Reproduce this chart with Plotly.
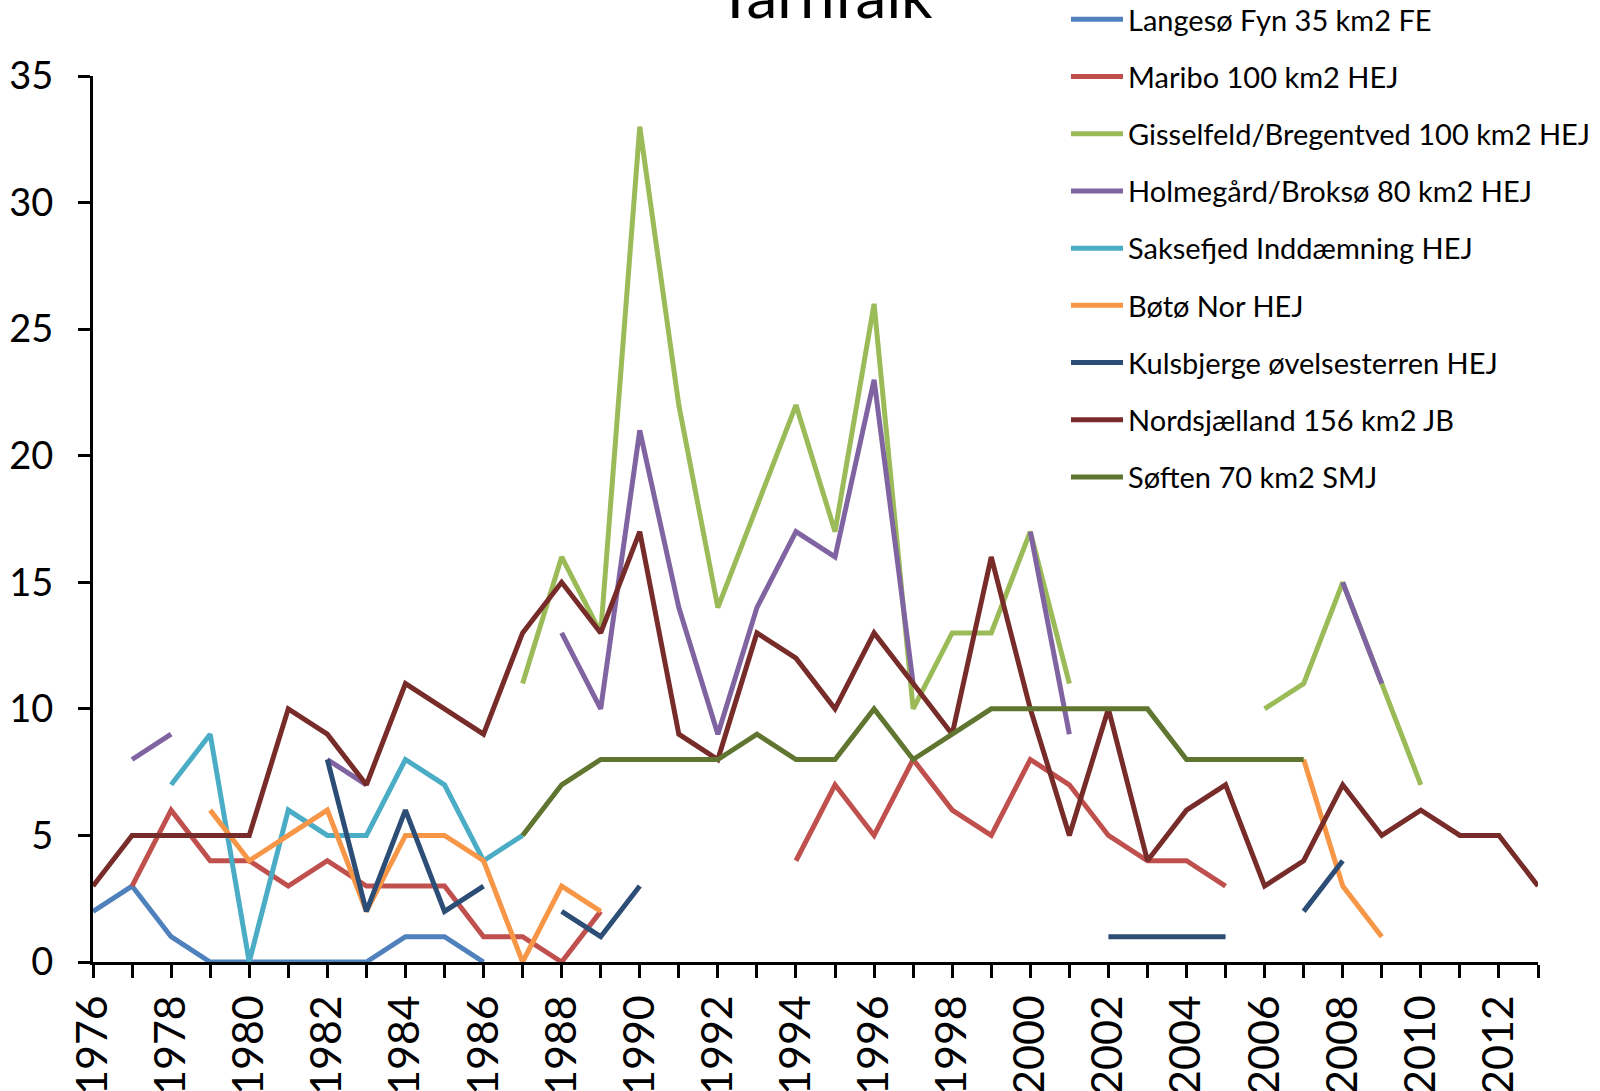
import plotly.graph_objects as go

years = list(range(1976, 2014))

series_names = [
    "Langesø Fyn 35 km2 FE",
    "Maribo 100 km2 HEJ",
    "Gisselfeld/Bregentved 100 km2 HEJ",
    "Holmegård/Broksø 80 km2 HEJ",
    "Saksefjed Inddæmning HEJ",
    "Bøtø Nor HEJ",
    "Kulsbjerge øvelsesterren HEJ",
    "Nordsjælland 156 km2 JB",
    "Søften 70 km2 SMJ",
]

N = None
langeso = [2, 3, 1, 0, 0, 0, 0, 0, 1, 1, 0] + [N] * 27
maribo = ([N, 3, 6, 4, 4, 3, 4, 3, 3, 3, 1, 1, 0, 2] + [N] * 4
          + [4, 7, 5, 8, 6, 5, 8, 7, 5, 4, 4, 3] + [N] * 8)
gisselfeld = ([N] * 11 + [11, 16, 13, 33, 22, 14, 18, 22, 17, 26, 10, 13, 13, 17, 11]
              + [N] * 4 + [10, 11, 15, 11, 7] + [N] * 3)
holmegard = ([N, 8, 9] + [N] * 3 + [8, 7] + [N] * 4
             + [13, 10, 21, 14, 9, 14, 17, 16, 23, 11] + [N] * 2 + [17, 9]
             + [N] * 6 + [15, 11] + [N] * 4)
saksefjed = [N] * 2 + [7, 9, 0, 6, 5, 5, 8, 7, 4, 5] + [N] * 26
boto = [N] * 3 + [6, 4, 5, 6, 2, 5, 5, 4, 0, 3, 2] + [N] * 17 + [8, 3, 1] + [N] * 4
kulsbjerge = ([N] * 6 + [8, 2, 6, 2, 3] + [N] + [2, 1, 3] + [N] * 11
              + [1, 1, 1, 1] + [N] + [2, 4] + [N] * 5)
nordsjaelland = [3, 5, 5, 5, 5, 10, 9, 7, 11, 10,
                 9, 13, 15, 13, 17, 9, 8, 13, 12, 10,
                 13, 11, 9, 16, 10, 5, 10, 4, 6, 7,
                 3, 4, 7, 5, 6, 5, 5, 3]
soften = ([N] * 11 + [5, 7, 8, 8, 8, 8, 9, 8, 8, 10, 8, 9, 10, 10, 10, 10, 10, 8, 8, 8, 8]
          + [N] * 6)

series_values = [langeso, maribo, gisselfeld, holmegard, saksefjed, boto,
                 kulsbjerge, nordsjaelland, soften]
colors = ["#4F81BD", "#C0504D", "#9BBB59", "#8064A2", "#4BACC6", "#F79646",
          "#2C4D75", "#772C2A", "#5F7530"]

title_text = "Tårnfalk"
y_tick_vals = [0, 5, 10, 15, 20, 25, 30, 35]

FONT = "Lato"

fig = go.Figure()
for i, (name, vals, col) in enumerate(zip(series_names, series_values, colors)):
    fig.add_trace(go.Scatter(
        x=years, y=vals, name=name, mode="lines",
        line=dict(color=col, width=5),
        connectgaps=False, legendgroup=f"g{i}",
    ))

W, H = 1600, 1091
L, R, T, B = 93, 62, 76, 129
plot_w = W - L - R
plot_h = H - T - B

def px_x(p):
    return (p - L) / plot_w

def px_y(p):
    return (H - B - p) / plot_h

fig.update_layout(
    width=W, height=H,
    margin=dict(l=L, r=R, t=T, b=B, pad=0, autoexpand=False),
    plot_bgcolor="white", paper_bgcolor="white",
    font=dict(family=FONT, color="black"),
    showlegend=True,
    legend=dict(
        xref="paper", yref="paper",
        x=px_x(1066), y=px_y(-6), xanchor="left", yanchor="top",
        font=dict(family=FONT, size=29, color="black"),
        traceorder="grouped", tracegroupgap=16.5,
        itemwidth=52, bgcolor="rgba(0,0,0,0)",
    ),
    xaxis=dict(
        range=[1976, 2013], tick0=1976, dtick=2, automargin=False,
        showline=True, linecolor="black", linewidth=3,
        ticks="outside", ticklen=13, tickwidth=3, tickcolor="black",
        tickangle=-90, tickfont=dict(family=FONT, size=43, color="black"),
        ticklabelstandoff=0,
        showgrid=False, zeroline=False,
        minor=dict(dtick=1, ticks="outside", ticklen=13, tickwidth=3,
                   tickcolor="black", showgrid=False),
    ),
    yaxis=dict(
        range=[0, 35], tickvals=y_tick_vals, automargin=False,
        showline=True, linecolor="black", linewidth=3,
        ticks="outside", ticklen=12, tickwidth=3, tickcolor="black",
        tickfont=dict(family=FONT, size=38, color="black"),
        ticklabelstandoff=17,
        showgrid=False, zeroline=False,
    ),
)

fig.add_annotation(
    text=title_text, xref="paper", yref="paper",
    x=px_x(825), y=px_y(33),
    xanchor="center", yanchor="bottom", showarrow=False,
    font=dict(family=FONT, size=62, color="black"),
)

fig.write_html(
    "out.html",
    config={"displayModeBar": False},
    post_script="document.body.style.margin='0';document.body.style.overflow='hidden';",
)
